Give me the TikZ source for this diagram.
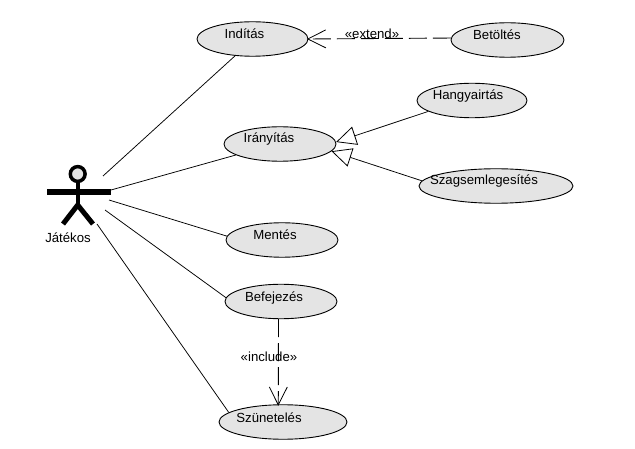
\documentclass[tikz,border=0pt]{standalone}
\usepackage{fontspec}
\setmainfont{Liberation Sans}
\usetikzlibrary{arrows.meta,shapes.geometric}
\definecolor{ucfill}{HTML}{E4E4E4}
\tikzset{
  uc/.style={ellipse,draw=black,fill=ucfill,line width=0.9pt,inner sep=0pt,minimum width=#1,minimum height=34.5pt},
  lbl/.style={inner sep=0pt,yshift=-0.8pt,font=\fontsize{13.2}{15}\selectfont,text=black},
  assoc/.style={draw=black,line width=0.75pt},
  dep/.style={draw=black,line width=0.9pt,dash pattern=on 18pt off 6pt,shorten >=-1.5pt,-{Straight Barb[length=18pt,width=18pt,line width=0.8pt]}},
  gen/.style={draw=black,line width=0.75pt,-{Triangle[open,length=20pt,width=19pt,line width=0.8pt,fill=white]}},
  limb/.style={draw=black,line cap=butt}
}
\begin{document}
\begin{tikzpicture}[x=1pt,y=-1pt]
\path[use as bounding box,fill=white] (0,0) rectangle (635,449);
% use cases
\node[uc=111pt] (indit) at (252.5,39) {};
\node[uc=113pt] (betolt) at (507.5,40) {};
\node[uc=110pt] (hangya) at (472,100.5) {};
\node[uc=112pt] (irany) at (280,144) {};
\node[uc=154pt] (szag) at (496,186) {};
\node[uc=112pt] (ment) at (282,240) {};
\node[uc=112pt] (befej) at (281,301.5) {};
\node[uc=128pt] (szun) at (283,422) {};
% actor
\draw[limb,line width=3.5pt,fill=ucfill] (77.7,174) circle (7.4pt);
\draw[limb,line width=6pt] (47,192) -- (111,192);
\draw[limb,line width=4pt] (77.7,182) -- (77.7,206);
\draw[limb,line width=5pt,line join=miter] (63,224) -- (77.7,205) -- (93,224);
% actor connector ends
\coordinate (a1) at (103,176);
\coordinate (a2) at (111,190);
\coordinate (a3) at (109,200);
\coordinate (a4) at (105,210);
\coordinate (a5) at (97,224);
\draw[assoc] (a1) -- (indit.224);
\draw[assoc] (a2) -- (irany.194);
\draw[assoc] (a3) -- (ment.176);
\draw[assoc] (a4) -- (befej.176);
\draw[assoc] (a5) -- (szun.170);
% relations
\draw[dep] (betolt.178.5) -- (indit.0.5);
\draw[dep] (befej.262) -- (szun.105);
\draw[gen] (hangya.194) -- (irany.2);
\draw[gen] (szag.176) -- (irany.-8);
% labels
\node[lbl] (t1) at (244.5,33) {Indítás};
\node[lbl] (t2) at (497,34) {Betöltés};
\node[lbl] (t3) at (468,95) {Hangyairtás};
\node[lbl] (t4) at (269,138) {Irányítás};
\node[lbl] (t5) at (484,180) {Szagsemlegesítés};
\node[lbl] (t6) at (275,234) {Mentés};
\node[lbl] (t7) at (274,297) {Befejezés};
\node[lbl] (t8) at (269,417) {Szünetelés};
\node[lbl] (t9) at (68,237) {Játékos};
\node[lbl] (t10) at (372,33) {«extend»};
\node[lbl] (t11) at (269,356) {«include»};
\end{tikzpicture}
\end{document}
